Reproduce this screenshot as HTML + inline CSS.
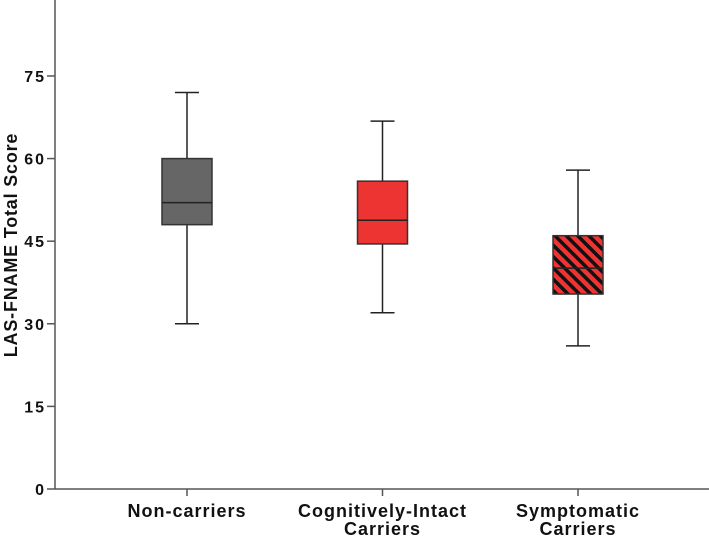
<!DOCTYPE html>
<html><head><meta charset="utf-8"><style>
body{margin:0;background:#fff}
svg{display:block;font-family:"Liberation Sans",Arial,sans-serif}
</style></head><body>
<svg id="chart" width="709" height="536" viewBox="0 0 709 536">
<defs>
<pattern id="hatch" patternUnits="userSpaceOnUse" width="8" height="8" patternTransform="rotate(-45)">
<rect width="8" height="8" fill="#ee3333"/>
<rect width="3.5" height="8" fill="#111"/>
</pattern>
</defs>
<g id="axes"></g>
<g id="boxes"></g>
<text transform="translate(17,245) rotate(-90)" text-anchor="middle" font-size="18" font-weight="bold" letter-spacing="0.8" fill="#111">LAS-FNAME Total Score</text>
</svg>
<script>
const categories = [["Non-carriers"], ["Cognitively-Intact","Carriers"], ["Symptomatic","Carriers"]];
const whiskerLow = [30, 32, 26];
const q1 = [48, 44.5, 35.4];
const median = [52, 48.8, 40.1];
const q3 = [60, 55.9, 46];
const whiskerHigh = [72, 66.8, 57.9];
const fills = ["#666666", "#ee3333", "url(#hatch)"];
const yTicks = [0, 15, 30, 45, 60, 75];

const NS = "http://www.w3.org/2000/svg";
const y = v => 489 - v * 5.507;
const x = i => 187 + i * 195.5;
const axisX = 55;
function mk(tag, attrs, parent) {
  const e = document.createElementNS(NS, tag);
  for (const k in attrs) e.setAttribute(k, attrs[k]);
  parent.appendChild(e);
  return e;
}
const axes = document.getElementById("axes");
const boxes = document.getElementById("boxes");

let l = mk("line", {x1: axisX, y1: 0, x2: axisX, y2: y(0), stroke: "#555", "stroke-width": 1.5}, axes);


l = mk("line", {x1: axisX, y1: y(0), x2: 709, y2: y(0), stroke: "#555", "stroke-width": 1.5}, axes);



yTicks.forEach(t => {
  const tk = mk("line", {x1: axisX - 8, y1: y(t), x2: axisX, y2: y(t), stroke: "#555", "stroke-width": 1.5}, axes);
  
  
  const tx = mk("text", {x: axisX - 9, y: y(t) + 6, "text-anchor": "end", "font-size": 16, "font-weight": "bold", "letter-spacing": 2, fill: "#111"}, axes);
  tx.textContent = String(t);
  
  
});

categories.forEach((lines, i) => {
  const cx = x(i);
  const tk = mk("line", {x1: cx, y1: y(0), x2: cx, y2: y(0) + 7, stroke: "#555", "stroke-width": 1.5}, axes);
  
  
  lines.forEach((s, j) => {
    const tx = mk("text", {x: cx, y: 517 + j * 18, "text-anchor": "middle", "font-size": 18, "font-weight": "bold", "letter-spacing": 1, fill: "#111"}, axes);
    tx.textContent = s;
    
    
  });

  const g = mk("g", {}, boxes);
  
  
  const hw = 25, cw = 12;
  mk("line", {x1: cx, y1: y(whiskerHigh[i]), x2: cx, y2: y(q3[i]), stroke: "#222", "stroke-width": 1.5}, g);
  mk("line", {x1: cx, y1: y(q1[i]), x2: cx, y2: y(whiskerLow[i]), stroke: "#222", "stroke-width": 1.5}, g);
  mk("line", {x1: cx - cw, y1: y(whiskerHigh[i]), x2: cx + cw, y2: y(whiskerHigh[i]), stroke: "#222", "stroke-width": 1.5}, g);
  mk("line", {x1: cx - cw, y1: y(whiskerLow[i]), x2: cx + cw, y2: y(whiskerLow[i]), stroke: "#222", "stroke-width": 1.5}, g);
  mk("rect", {x: cx - hw, y: y(q3[i]), width: 2 * hw, height: y(q1[i]) - y(q3[i]), fill: fills[i], stroke: "#333", "stroke-width": 1.5}, g);
  mk("line", {x1: cx - hw, y1: y(median[i]), x2: cx + hw, y2: y(median[i]), stroke: "#222", "stroke-width": 1.5}, g);
});
</script>
</body></html>
